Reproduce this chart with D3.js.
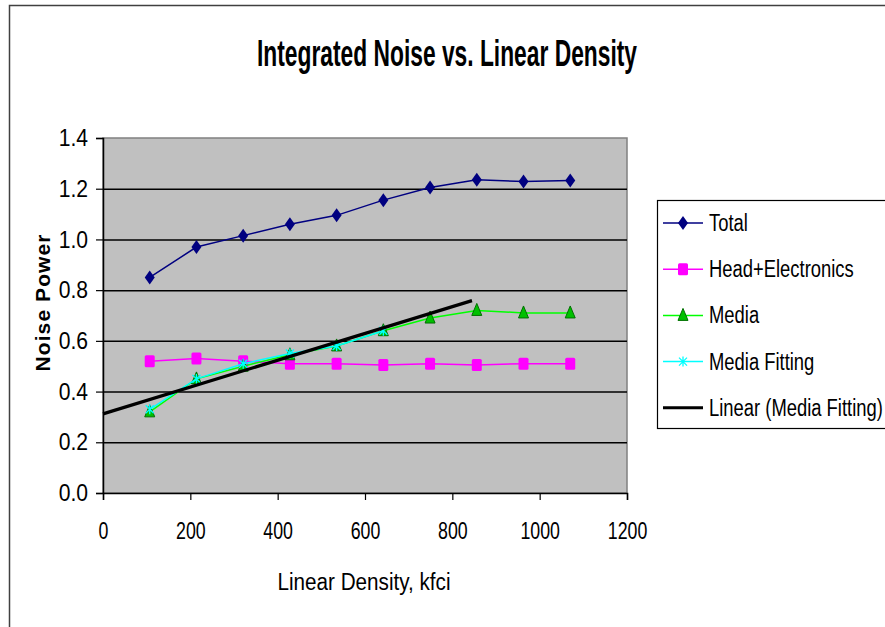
<!DOCTYPE html>
<html>
<head>
<meta charset="utf-8">
<script src="https://cdn.jsdelivr.net/npm/d3@7"></script>
<style>
  body { margin: 0; background: #fff; }
  svg { display: block; }
  text { font-family: 'Liberation Sans', Arial, sans-serif; fill: #000; }
</style>
</head>
<body>
<svg id="chart"></svg>
<script>
// dados
const densidade = [107, 214, 321, 428, 535, 642, 749, 856, 963, 1070];
const total = [0.85, 0.97, 1.015, 1.06, 1.095, 1.155, 1.205, 1.235, 1.228, 1.232];
const cabeca = [0.52, 0.53, 0.52, 0.51, 0.51, 0.505, 0.51, 0.505, 0.51, 0.51];
const media = [0.32, 0.45, 0.50, 0.545, 0.58, 0.64, 0.69, 0.72, 0.71, 0.71];
const mediaAjuste = [0.33, 0.45, 0.51, 0.55, 0.58, 0.64];
const faixaTendencia = [0, 845];
const ticksX = [0, 200, 400, 600, 800, 1000, 1200];
const ticksY = [0, 0.2, 0.4, 0.6, 0.8, 1.0, 1.2, 1.4];
const nomesSeries = ['Total', 'Head+Electronics', 'Media', 'Media Fitting', 'Linear (Media Fitting)'];

const largura = 885, altura = 627;
const margem = { esquerda: 103, direita: 258, superior: 138, inferior: 134 };

const svg = d3.select('#chart').attr('width', largura).attr('height', altura);

// fonte estreita: comprime o texto na horizontal
function estreitar(sel, fator) {
    sel.each(function () {
        const w = this.getComputedTextLength();
        d3.select(this).attr('textLength', w * fator).attr('lengthAdjust', 'spacingAndGlyphs');
    });
}

// moldura externa
svg.append('rect')
    .attr('x', 9.5).attr('y', 5.5)
    .attr('width', largura + 20).attr('height', altura + 20)
    .attr('fill', '#fff').attr('stroke', '#404040').attr('stroke-width', 1.5);

const fnX = d3.scaleLinear().domain([0, 1200]).range([margem.esquerda, largura - margem.direita]);
const fnY = d3.scaleLinear().domain([0, 1.4]).range([altura - margem.inferior, margem.superior]);

// area de plotagem
svg.append('rect')
    .attr('x', fnX(0)).attr('y', fnY(1.4))
    .attr('width', fnX(1200) - fnX(0)).attr('height', fnY(0) - fnY(1.4))
    .attr('fill', '#c0c0c0').attr('stroke', '#808080').attr('stroke-width', 1.5);

// grade
svg.append('g')
    .attr('transform', 'translate(' + fnX(0) + ',0)')
    .call(d3.axisRight(fnY).tickValues(ticksY.slice(1, -1)).tickSize(fnX(1200) - fnX(0)).tickFormat(''))
    .call(g => g.select('.domain').remove())
    .selectAll('line').attr('stroke', '#000').attr('stroke-width', 1.5);

// eixos
const eixoX = svg.append('g')
    .attr('transform', 'translate(0,' + fnY(0) + ')')
    .call(d3.axisBottom(fnX).tickValues(ticksX).tickSize(7).tickPadding(22).tickFormat(d3.format('d')));
const eixoY = svg.append('g')
    .attr('transform', 'translate(' + fnX(0) + ',0)')
    .call(d3.axisLeft(fnY).tickValues(ticksY).tickSize(7).tickPadding(8).tickFormat(d3.format('.1f')));
[eixoX, eixoY].forEach(e => {
    e.select('.domain').attr('stroke', '#000').attr('stroke-width', 1.5);
    e.selectAll('.tick line').attr('stroke', '#000').attr('stroke-width', 1.2);
    e.selectAll('text').style('font-size', '24px').style('font-family', "'Liberation Sans', Arial, sans-serif").attr('fill', '#000');
});
estreitar(eixoX.selectAll('text'), 0.74);
estreitar(eixoY.selectAll('text'), 0.88);

// titulos
svg.append('text')
    .attr('x', 447).attr('y', 66)
    .attr('text-anchor', 'middle')
    .style('font-size', '36px').style('font-weight', 'bold')
    .attr('textLength', 380).attr('lengthAdjust', 'spacingAndGlyphs')
    .text('Integrated Noise vs. Linear Density');
svg.append('text')
    .attr('x', 364).attr('y', 590)
    .attr('text-anchor', 'middle')
    .style('font-size', '23px')
    .attr('textLength', 173).attr('lengthAdjust', 'spacingAndGlyphs')
    .text('Linear Density, kfci');
svg.append('text')
    .attr('transform', 'translate(50,' + 303 + ') rotate(-90)')
    .attr('text-anchor', 'middle')
    .style('font-size', '21px').style('font-weight', 'bold')
    .attr('textLength', 137).attr('lengthAdjust', 'spacing')
    .text('Noise Power');

// series
const linha = d3.line().x(d => fnX(d[0])).y(d => fnY(d[1]));
const series = [
    { nome: nomesSeries[0], valores: total, cor: '#000080', marcador: 'diamante' },
    { nome: nomesSeries[1], valores: cabeca, cor: '#ff00ff', marcador: 'quadrado' },
    { nome: nomesSeries[2], valores: media, cor: '#00ff00', marcador: 'triangulo' },
    { nome: nomesSeries[3], valores: mediaAjuste, cor: '#00ffff', marcador: 'xis' }
];

function marcador(g, tipo, cor) {
    if (tipo === 'diamante') {
        g.append('path').attr('d', 'M0,-7L5,0L0,7L-5,0Z').attr('fill', cor);
    } else if (tipo === 'quadrado') {
        g.append('rect').attr('x', -5).attr('y', -6).attr('width', 10).attr('height', 12).attr('rx', 1.5).attr('fill', cor);
    } else if (tipo === 'triangulo') {
        g.append('path').attr('d', 'M0,-7L5,5L-5,5Z').attr('fill', '#00c000').attr('stroke', '#007000').attr('stroke-width', 1);
    } else {
        g.append('path').attr('d', 'M-4,-4L4,4M-4,4L4,-4M0,-5V5').attr('stroke', cor).attr('stroke-width', 1.3).attr('fill', 'none');
    }
}

series.forEach(s => {
    const pts = s.valores.map((v, i) => [densidade[i], v]);
    svg.append('path').datum(pts).attr('d', linha)
        .attr('fill', 'none').attr('stroke', s.cor).attr('stroke-width', 1.5);
    pts.forEach(p => {
        const g = svg.append('g').attr('transform', 'translate(' + fnX(p[0]) + ',' + fnY(p[1]) + ')');
        marcador(g, s.marcador, s.cor);
    });
});

// tendencia linear (minimos quadrados sobre Media Fitting)
const xs = mediaAjuste.map((v, i) => densidade[i]);
const mx = d3.mean(xs), my = d3.mean(mediaAjuste);
const incl = d3.sum(xs, (x, i) => (x - mx) * (mediaAjuste[i] - my)) / d3.sum(xs, x => (x - mx) * (x - mx));
const inter = my - incl * mx;
svg.append('path')
    .datum(faixaTendencia.map(x => [x, inter + incl * x]))
    .attr('d', linha)
    .attr('fill', 'none').attr('stroke', '#000').attr('stroke-width', 3.2);

// legenda
const leg = svg.append('g').attr('transform', 'translate(657,200)');
leg.append('rect').attr('x', 0.5).attr('y', 0.5).attr('width', 260).attr('height', 228)
    .attr('fill', '#fff').attr('stroke', '#000').attr('stroke-width', 1.2);
nomesSeries.forEach((n, i) => {
    const y = 23 + i * 46.2;
    const s = series[i];
    leg.append('line').attr('x1', 6).attr('x2', 46).attr('y1', y).attr('y2', y)
        .attr('stroke', s ? s.cor : '#000').attr('stroke-width', s ? 1.5 : 3);
    if (s) marcador(leg.append('g').attr('transform', 'translate(26,' + y + ')'), s.marcador, s.cor);
    leg.append('text').attr('x', 52).attr('y', y + 8).style('font-size', '23px').text(n)
        .call(estreitar, 0.8);
});
</script>
</body>
</html>
